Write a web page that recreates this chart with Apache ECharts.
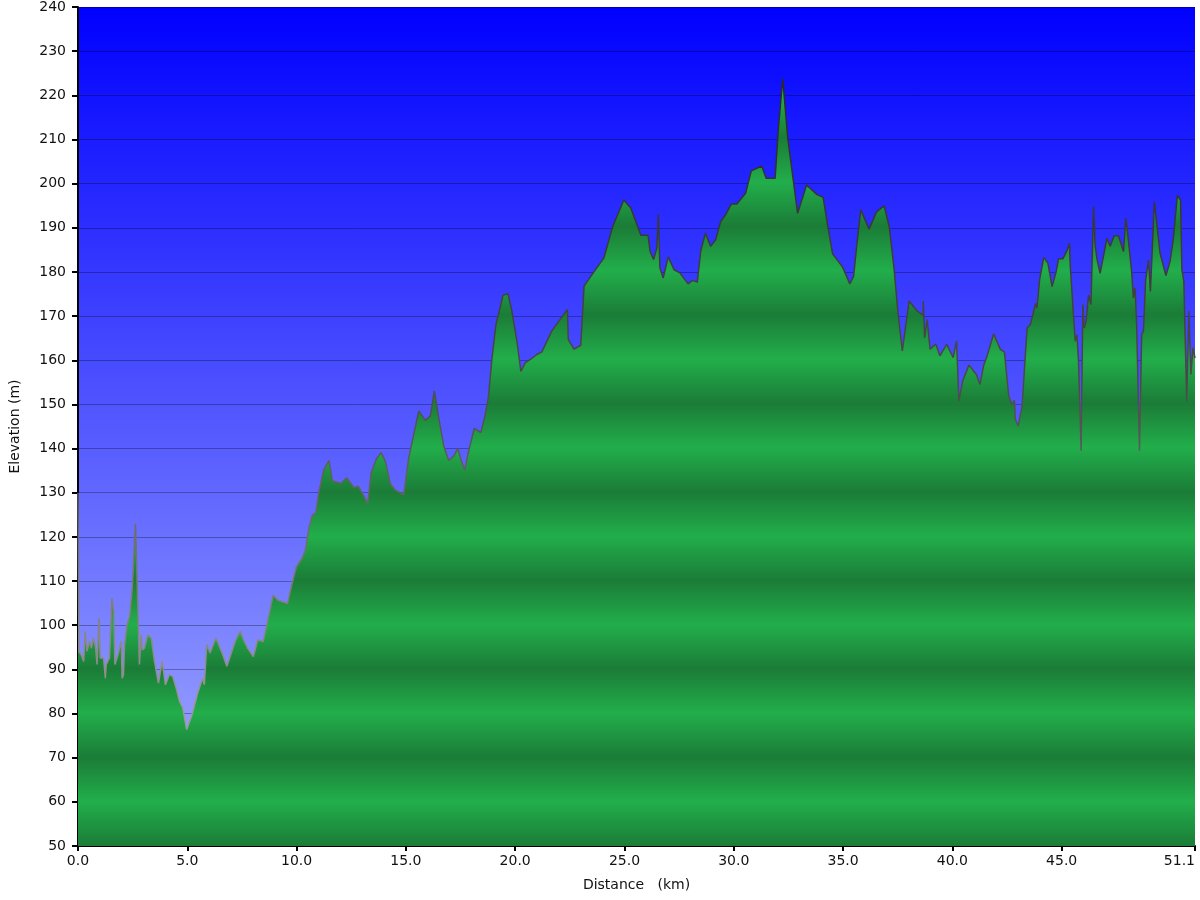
<!DOCTYPE html>
<html>
<head>
<meta charset="utf-8">
<script src="https://cdn.jsdelivr.net/npm/echarts@6/dist/echarts.min.js"></script>
<style>html,body{margin:0;padding:0;background:#fff}#c{width:1200px;height:900px}</style>
</head>
<body>
<div id="c"></div>
<script>
const distanceKm = [0.00,0.04,0.08,0.15,0.26,0.33,0.41,0.53,0.61,0.71,0.81,0.87,0.96,1.02,1.11,1.17,1.25,1.29,1.37,1.44,1.55,1.63,1.69,1.83,1.90,1.98,2.02,2.08,2.13,2.24,2.36,2.48,2.56,2.63,2.71,2.81,2.89,2.94,3.04,3.19,3.35,3.50,3.68,3.85,4.00,4.18,4.33,4.49,4.64,4.79,4.97,5.22,5.48,5.70,5.78,5.89,6.04,6.31,6.59,6.81,7.04,7.22,7.42,7.57,7.76,8.02,8.23,8.47,8.67,8.93,9.13,9.35,9.58,9.81,9.99,10.24,10.39,10.57,10.72,10.87,11.03,11.25,11.48,11.64,12.02,12.29,12.62,12.82,13.08,13.25,13.41,13.64,13.87,14.07,14.30,14.52,14.90,15.13,15.36,15.59,15.89,16.12,16.30,16.50,16.73,16.96,17.19,17.37,17.54,17.69,17.87,18.13,18.43,18.63,18.78,18.94,19.12,19.27,19.44,19.67,19.85,20.08,20.26,20.46,20.76,20.99,21.22,21.67,22.05,22.39,22.43,22.69,23.00,23.15,23.57,24.06,24.46,24.97,25.29,25.75,26.08,26.17,26.33,26.48,26.55,26.62,26.77,27.00,27.27,27.53,27.91,28.11,28.33,28.49,28.70,28.94,29.17,29.40,29.63,29.89,30.14,30.54,30.80,31.28,31.48,31.89,32.04,32.24,32.47,32.69,32.92,33.33,33.81,34.09,34.29,34.52,34.98,35.31,35.48,35.63,35.81,36.19,36.53,36.88,37.11,37.33,37.52,37.71,38.02,38.40,38.66,38.67,38.73,38.85,38.98,39.06,39.24,39.43,39.74,40.04,40.19,40.30,40.47,40.76,40.98,41.10,41.16,41.26,41.44,41.56,41.89,42.20,42.38,42.58,42.73,42.84,42.88,43.01,43.19,43.31,43.42,43.57,43.72,43.80,43.87,43.99,44.18,44.37,44.56,44.75,44.86,45.06,45.24,45.36,45.39,45.51,45.62,45.70,45.77,45.89,45.97,46.03,46.12,46.23,46.34,46.46,46.53,46.61,46.76,47.07,47.22,47.40,47.60,47.83,47.93,48.02,48.20,48.28,48.36,48.43,48.56,48.66,48.74,48.84,48.97,49.06,49.24,49.50,49.77,49.96,50.11,50.29,50.44,50.50,50.59,50.67,50.72,50.82,50.91,51.01,51.10];
const elevationM = [130,94,93.7,93.3,91.8,98.6,94.1,96.3,94.8,97.1,94.8,91.1,101.6,92.6,92.9,92.6,88.0,91.1,90.7,92.6,106.1,103.1,91.1,93.3,94.8,96.3,88.0,88.8,95.6,100.1,102.0,108.3,108.7,123.0,109.1,91.1,97.8,94.4,94.8,97.8,97.1,91.8,86.9,91.8,86.5,88.8,88.4,85.8,82.8,81.3,76.4,79.8,84.7,88.0,86.5,95.6,93.7,97.1,93.7,90.7,94.1,96.7,98.6,96.7,94.8,92.9,96.7,96.3,100.8,106.8,105.7,105.3,104.9,109.8,113.2,115.1,116.8,122.1,125.0,125.3,130.4,135.3,137.3,132.7,132.1,133.4,131.2,131.5,129.3,127.6,134.5,137.6,139.1,137.0,131.9,130.6,129.6,137.9,143.2,148.5,146.4,147.4,153.0,147.0,140.6,137.3,138.3,140.0,137.2,135.1,139.4,144.6,143.6,147.7,151.9,160.5,168.1,171.1,174.7,175.1,171.1,164.3,157.5,159.4,160.4,161.3,161.9,166.6,169.2,171.5,164.7,162.5,163.4,176.8,179.8,183.2,190.3,196.3,194.5,188.3,188.3,184.7,182.8,185.4,193.0,180.9,178.6,183.4,180.5,179.8,177.3,178.1,177.7,184.8,188.8,185.8,187.3,191.4,193.0,195.4,195.4,197.8,202.9,204.0,201.2,201.2,212.5,223.8,210.3,202.0,193.3,199.7,197.5,196.9,190.7,184.1,181.1,177.3,179.0,186.2,194.1,189.7,193.6,195.0,190.3,180.9,170.4,162.1,173.4,171.1,170.2,173.4,165.1,169.2,162.5,162.5,163.7,161.0,163.6,160.6,164.4,150.8,155.3,158.9,157.5,156.8,157.1,154.5,159.0,160.5,166.0,162.4,161.9,151.9,150.0,150.9,146.6,145.1,149.6,159.0,167.3,168.1,171.1,172.9,171.8,178.2,183.3,182.0,176.7,180.1,183.0,183.0,184.8,186.5,181.6,172.6,164.3,165.8,159.8,139.5,172.6,167.3,168.8,174.8,172.6,194.8,186.1,183.1,179.7,187.6,185.8,188.2,188.2,184.6,192.2,188.8,180.1,174.1,176.4,168.1,139.5,165.8,166.6,177.9,182.7,175.6,195.9,184.3,179.2,182.4,187.6,197.3,196.3,180.5,177.9,177.9,150.7,171.1,156.8,162.8,160.5];
const xTickValues = [0,5,10,15,20,25,30,35,40,45,51.1];
const yMin = 50, yMax = 240, yStep = 10;
const xMax = 51.1;

const gridTop = 5, gridBottom = 54, H = 900;
const plotTop = gridTop, plotBottom = H - gridBottom;

const bright = '#22ae4b', dark = '#1b7c37';
const fillStops = [];
for (let v = yMax; v >= yMin; v -= yStep) {
  fillStops.push({offset: (yMax - v) / (yMax - yMin), color: (v % 20 === 0) ? bright : dark});
}

const chart = echarts.init(document.getElementById('c'), null, {renderer: 'canvas'});
const data = distanceKm.map((d, i) => [d, elevationM[i]]);
const font = 'DejaVu Sans, Verdana, sans-serif';

chart.setOption({
  animation: false,
  grid: {
    left: 75, right: 5, top: gridTop, bottom: gridBottom,
    show: true, borderWidth: 0,
    backgroundColor: {type: 'linear', x: 0, y: 0, x2: 0, y2: 1,
      colorStops: [{offset: 0, color: '#0000ff'}, {offset: 1, color: '#a8b2ff'}]}
  },
  xAxis: {
    type: 'value', min: 0, max: xMax,
    name: 'Distance   (km)', nameLocation: 'middle', nameGap: 32,
    nameTextStyle: {fontFamily: font, fontSize: 14, color: '#111'},
    axisLine: {show: true, onZero: false, lineStyle: {color: '#000', width: 2}},
    axisTick: {show: true, length: 5, customValues: xTickValues, lineStyle: {color: '#000', width: 2}},
    axisLabel: {customValues: xTickValues, fontFamily: font, fontSize: 14, color: '#111', margin: 8,
      alignMaxLabel: 'right',
      formatter: v => Number(v).toFixed(1)},
    splitLine: {show: false}
  },
  yAxis: {
    type: 'value', min: yMin, max: yMax, interval: yStep,
    name: 'Elevation (m)', nameLocation: 'middle', nameGap: 56, nameRotate: 90,
    nameTextStyle: {fontFamily: font, fontSize: 14, color: '#111'},
    axisLine: {show: true, lineStyle: {color: '#000', width: 2}},
    axisTick: {show: true, length: 6, lineStyle: {color: '#000', width: 2}},
    axisLabel: {fontFamily: font, fontSize: 14, color: '#111', margin: 12},
    splitLine: {show: true, lineStyle: {color: 'rgba(0,0,0,0.3)', width: 1}}
  },
  series: [{
    type: 'line', data: data, symbol: 'none', smooth: false, z: 1,
    lineStyle: {width: 1.5, color: {type: 'linear', x: 0, y: plotTop, x2: 0, y2: plotBottom, global: true,
      colorStops: [{offset: 0, color: '#202020'}, {offset: 0.45, color: '#4a4a4a'}, {offset: 1, color: '#b8b8b8'}]}},
    areaStyle: {origin: 'start', opacity: 1, color: {type: 'linear', x: 0, y: plotTop, x2: 0, y2: plotBottom, global: true, colorStops: fillStops}}
  }]
});
</script>
</body>
</html>
